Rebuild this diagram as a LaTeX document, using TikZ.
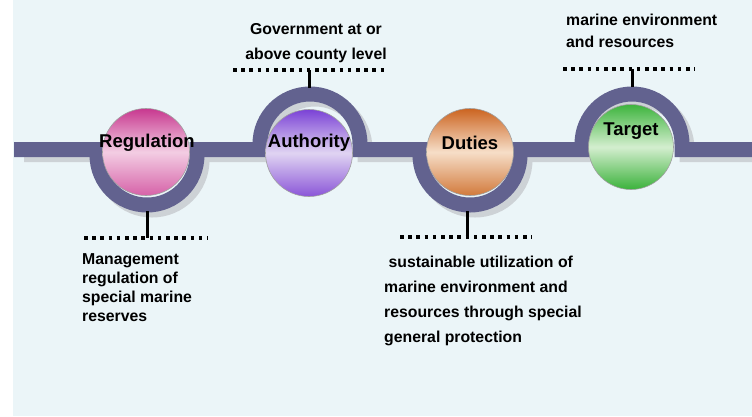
\documentclass[tikz,border=0pt]{standalone}
\usepackage{fontspec}
\setmainfont{Liberation Sans}
\usepackage{tikz}

\definecolor{bgblue}{HTML}{EBF5F8}
\definecolor{bandblue}{HTML}{62628F}
\definecolor{bandshadow}{HTML}{CDD2D6}

\newcommand\bandroute{(14,-149.5) -- (97,-149.5) -- (97,-155)
  arc[start angle=180,end angle=360,radius=50] -- (197,-149.5)
  -- (260,-149.5) -- (260,-144)
  arc[start angle=180,end angle=0,radius=50] -- (360,-149.5)
  -- (420,-149.5) -- (420,-155)
  arc[start angle=180,end angle=360,radius=50] -- (520,-149.5)
  -- (582,-149.5) -- (582,-144)
  arc[start angle=180,end angle=0,radius=50] -- (682,-149.5)
  -- (752,-149.5)}

\begin{document}
\begin{tikzpicture}[x=1pt,y=1pt,
  ball/.style={circle,draw=gray!75,line width=0.6pt,minimum size=87pt,inner sep=0pt},
  title/.style={font=\fontsize{18.5}{22}\selectfont\bfseries,anchor=base,inner sep=0pt},
  note/.style={font=\fontsize{15.8}{#1}\selectfont\bfseries,inner sep=0pt},
  dots/.style={line width=3.5pt,dash pattern=on 3.5pt off 4.7pt},
  tick/.style={line width=3pt}]
\useasboundingbox (0,0) rectangle (752,-416);
\fill[white] (0,0) rectangle (752,-416);
\fill[bgblue] (13,0) rectangle (752,-416);

\begin{scope}[xshift=5pt,yshift=-5pt]
  \clip (19,0) rectangle (752,-416);
  \draw[bandshadow,line width=15pt] \bandroute;
\end{scope}
\draw[bandblue,line width=15pt] \bandroute;

\node[ball,top color={rgb,255:red,200;green,56;blue,143},bottom color={rgb,255:red,214;green,98;blue,168},
  middle color={rgb,255:red,243;green,205;blue,227}] (regball) at (146,-152) {};
\node[ball,top color={rgb,255:red,123;green,66;blue,214},bottom color={rgb,255:red,138;green,85;blue,216},
  middle color={rgb,255:red,224;green,212;blue,242}] (authball) at (309,-153) {};
\node[ball,top color={rgb,255:red,204;green,100;blue,32},bottom color={rgb,255:red,210;green,122;blue,60},
  middle color={rgb,255:red,246;green,222;blue,200}] (dutyball) at (470,-152) {};
\node[ball,minimum size=85pt,top color={rgb,255:red,61;green,180;blue,61},bottom color={rgb,255:red,59;green,178;blue,59},
  middle color={rgb,255:red,212;green,238;blue,207}] (targball) at (631,-147) {};

\node[title] (reglabel) at (147,-147) {Regulation};
\node[title] (authlabel) at (309,-147) {Authority};
\node[title] (dutylabel) at (470,-149) {Duties};
\node[title] (targlabel) at (631,-135) {Target};

\coordinate (regfoot) at (147,-211);
\coordinate (regbar) at (147,-238);
\coordinate (regleft) at (84,-238);
\coordinate (regright) at (208,-238);
\draw[tick] (regfoot) -- (regbar);
\draw[dots] (regleft) -- (regright);
\node[note=19,align=left,anchor=north west] (regnote) at (82,-253)
  {Management\\regulation of\\special marine\\reserves};

\coordinate (authtop) at (309,-88);
\coordinate (authbar) at (309,-70);
\coordinate (authleft) at (233,-70);
\coordinate (authright) at (384,-70);
\draw[tick] (authtop) -- (authbar);
\draw[dots] (authleft) -- (authright);
\node[note=25,align=center,anchor=north] (authnote) at (316,-23.5)
  {Government at or\\above county level};

\coordinate (dutyfoot) at (467,-211);
\coordinate (dutybar) at (467,-237);
\coordinate (dutyleft) at (400,-237);
\coordinate (dutyright) at (532,-237);
\draw[tick] (dutyfoot) -- (dutybar);
\draw[dots] (dutyleft) -- (dutyright);
\node[note=25,align=left,anchor=north west] (dutynote) at (384,-255.5)
  {\ sustainable utilization of\\marine environment and\\resources through special\\general protection};

\coordinate (targtop) at (632,-87);
\coordinate (targbar) at (632,-69);
\coordinate (targleft) at (563,-69);
\coordinate (targright) at (695,-69);
\draw[tick] (targtop) -- (targbar);
\draw[dots] (targleft) -- (targright);
\node[note=22,align=left,anchor=north west] (targnote) at (566,-13.5)
  {marine environment\\and resources};
\end{tikzpicture}
\end{document}
